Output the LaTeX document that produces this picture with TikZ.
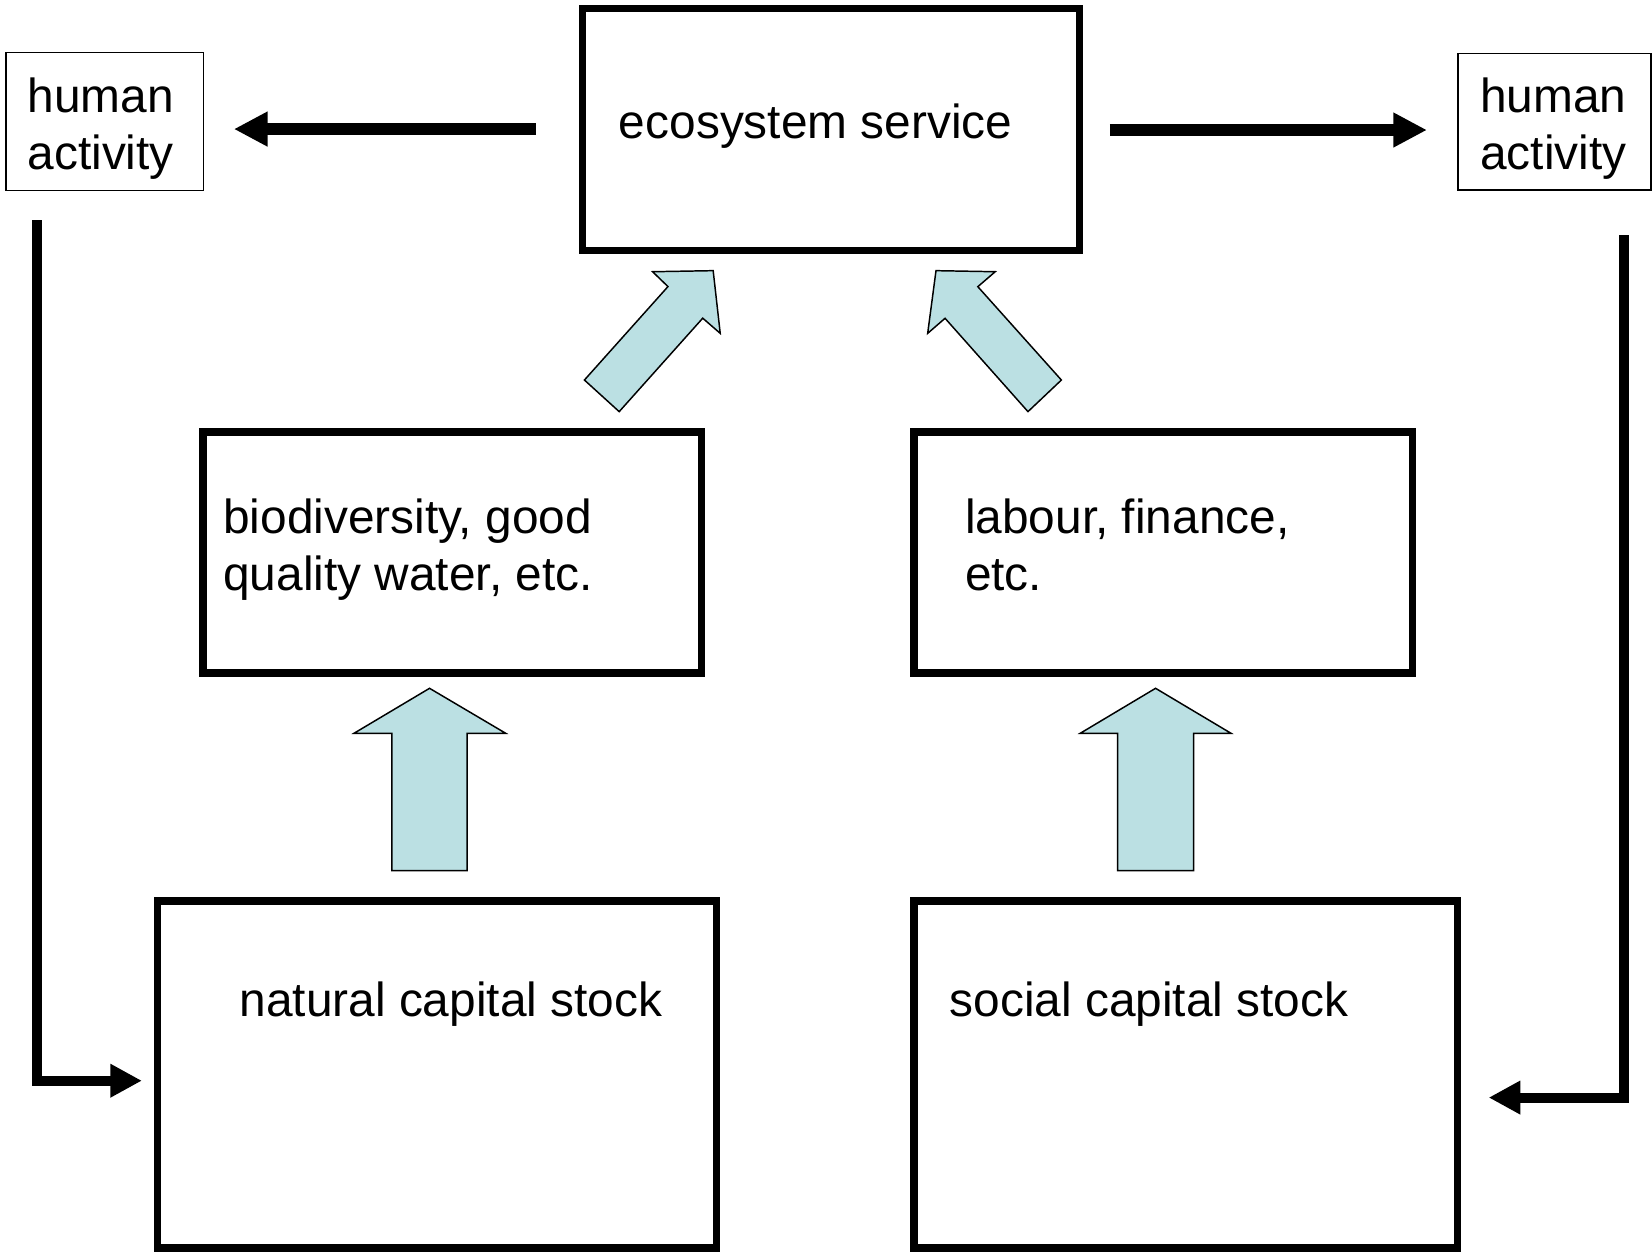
\documentclass[tikz,border=0pt]{standalone}
\usepackage{fontspec}
\setmainfont{Liberation Sans}
\usetikzlibrary{calc,arrows.meta}
\definecolor{blockfill}{RGB}{187,224,227}
\begin{document}
\begin{tikzpicture}[x=1pt,y=-1pt,
  heavybox/.style={draw, rectangle, line width=7pt, inner sep=0pt, outer sep=0pt},
  lightbox/.style={draw, rectangle, line width=1.5pt, inner sep=0pt, outer sep=0pt},
  lbl/.style={anchor=base west, inner sep=0pt, outer sep=0pt, font=\fontsize{45.4}{54.5}\selectfont},
  toparrow/.style={line width=11pt, -{Triangle[length=32pt,width=31pt]}},
  looparrow/.style={line width=9.5pt, line join=miter, -{Triangle[length=30pt,width=30pt]}},
  blockarrow/.style={fill=blockfill, draw=black, line width=1.4pt, line join=miter}
]
\useasboundingbox (0,0) rectangle (1568,1191);
\fill[white] (0,0) rectangle (1568,1191);

% boxes
\node[heavybox, minimum width=471.9pt, minimum height=229.4pt] (eco) at (788.65,122.9) {};
\node[lightbox, minimum width=187.5pt, minimum height=131pt] (hl) at (99.25,115.5) {};
\node[lightbox, minimum width=183pt, minimum height=129.7pt] (hr) at (1475.5,115.45) {};
\node[heavybox, minimum width=473.2pt, minimum height=228.8pt] (bio) at (429.4,524.4) {};
\node[heavybox, minimum width=473.3pt, minimum height=228.8pt] (lab) at (1104.15,524.4) {};
\node[heavybox, minimum width=530.3pt, minimum height=329.5pt] (nat) at (414.85,1019.75) {};
\node[heavybox, minimum width=516pt, minimum height=329.5pt] (soc) at (1125.5,1019.75) {};

% texts
\node[lbl] (hlA) at (26.2,106.5) {human};
\node[lbl] (hlB) at (26.2,161) {activity};
\node[lbl] (hrA) at (1405,106.5) {human};
\node[lbl] (hrB) at (1405,161) {activity};
\node[lbl] (ecoT) at (587.5,131) {ecosystem service};
\node[lbl] (bioA) at (211.9,506) {biodiversity, good};
\node[lbl] (bioB) at (211.9,560.6) {quality water, etc.};
\node[lbl] (labA) at (916,506) {labour, finance,};
\node[lbl] (labB) at (916,560.6) {etc.};
\node[lbl] (natT) at (227.4,965) {natural capital stock};
\node[lbl] (socT) at (901.4,965) {social capital stock};

% top arrows
\draw[toparrow] ($(eco.west)+(-44.2,-0.4)$) -- ($(hl.east|-eco.west)+(29,-0.4)$);
\draw[toparrow] ($(eco.east)+(28.9,0.5)$) -- ($(hr.west|-eco.east)+(-29.6,0.5)$);

% feedback loops
\draw[looparrow] ($(hl.south west)+(29.7,28)$) |- ($(nat.west)+(-15,6)$);
\draw[looparrow] ($(hr.south west)+(157,43)$) |- ($(soc.east)+(29.5,22)$);

% vertical block arrows
\draw[blockarrow] (372,826.4) -- (372,696) -- (336,696) -- (407.7,653.3) -- (480,696) -- (443.4,696) -- (443.4,826.4) -- cycle;
\draw[blockarrow] (1060.7,826.4) -- (1060.7,696) -- (1025.3,696) -- (1096.8,653.3) -- (1168.4,696) -- (1133,696) -- (1133,826.4) -- cycle;

% diagonal block arrows
\draw[blockarrow] (554.7,360.7) -- (634,272) -- (619.4,257.9) -- (676.9,256.9) -- (683.6,316.4) -- (667,302) -- (587.7,390.7) -- cycle;
\draw[blockarrow] (1007.4,360.7) -- (928.1,272.1) -- (944.6,257.9) -- (888.4,256.9) -- (880.5,316.4) -- (897,302.1) -- (975.7,390.7) -- cycle;
\end{tikzpicture}
\end{document}
